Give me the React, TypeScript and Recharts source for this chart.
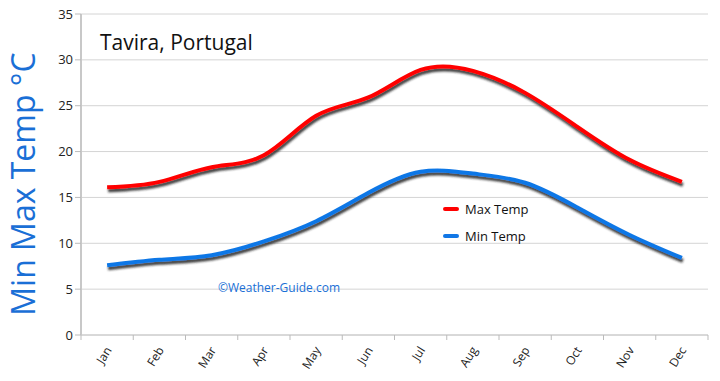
import { LineChart, Line, XAxis, YAxis, CartesianGrid } from 'recharts';

const months = ['Jan', 'Feb', 'Mar', 'Apr', 'May', 'Jun', 'Jul', 'Aug', 'Sep', 'Oct', 'Nov', 'Dec'];
const maxTemp = [16.1, 16.7, 18.3, 19.6, 23.9, 25.9, 28.9, 28.8, 26.4, 22.7, 19.1, 16.7];
const minTemp = [7.6, 8.2, 8.7, 10.2, 12.4, 15.5, 17.8, 17.6, 16.6, 13.9, 10.9, 8.4];
const yTicks = [0, 5, 10, 15, 20, 25, 30, 35];

const data = months.map((m, i) => ({ month: m, max: maxTemp[i], min: minTemp[i] }));

const font = '"Open Sans", "DejaVu Sans", sans-serif';
const STEP = 627 / 12;

type TickProps = { x?: number; y?: number; payload?: { value: string; index: number } };

const MonthTick = ({ x = 0, y = 0, payload }: TickProps): JSX.Element => {
  const last = payload?.index === months.length - 1;
  return (
    <g>
      <line x1={x - STEP / 2} x2={x - STEP / 2} y1={y - 8} y2={y - 3} stroke="#bbb" />
      {last && <line x1={x + STEP / 2} x2={x + STEP / 2} y1={y - 8} y2={y - 3} stroke="#bbb" />}
      <text
        x={x + 5}
        y={y + 7}
        textAnchor="end"
        fontSize={12}
        fill="#222"
        fontFamily={font}
        transform={`rotate(-58 ${x + 5} ${y + 7})`}
      >
        {payload?.value}
      </text>
    </g>
  );
};

export default function App(): JSX.Element {
  return (
    <div style={{ position: 'absolute', left: 0, top: 0, width: 720, height: 381, background: '#fff', fontFamily: font }}>
      <style>{`.shadowed path.recharts-curve { filter: url(#lineShadow); }`}</style>
      <LineChart width={720} height={381} data={data} margin={{ top: 14, right: 12, left: 31, bottom: 0 }}>
        <defs>
          <filter id="lineShadow" x="-5%" y="-20%" width="110%" height="150%">
            <feDropShadow dx="1" dy="3" stdDeviation="1.2" floodColor="#222" floodOpacity="0.85" />
          </filter>
        </defs>
        <CartesianGrid vertical={false} stroke="#d4d4d4" />
        <XAxis
          dataKey="month"
          height={46}
          padding={{ left: STEP / 2, right: STEP / 2 }}
          tick={<MonthTick />}
          tickLine={false}
          axisLine={{ stroke: '#c8c8c8' }}
          interval={0}
        />
        <YAxis
          domain={[0, 35]}
          ticks={yTicks}
          width={50}
          tickSize={6}
          tickLine={{ stroke: '#bbb' }}
          axisLine={{ stroke: '#c8c8c8', strokeWidth: 2 }}
          tick={{ fontSize: 13, fill: '#222', fontFamily: font }}
        />
        <YAxis
          yAxisId="r"
          orientation="right"
          width={0}
          tick={false}
          tickLine={false}
          axisLine={{ stroke: '#d4d4d4' }}
        />
        <Line
          className="shadowed"
          dataKey="max"
          type="natural"
          stroke="#ff0000"
          strokeWidth={4}
          dot={false}
          isAnimationActive={false}
        />
        <Line
          className="shadowed"
          dataKey="min"
          type="natural"
          stroke="#1177e6"
          strokeWidth={4}
          dot={false}
          isAnimationActive={false}
        />
      </LineChart>

      <div style={{ position: 'absolute', left: 100, top: 28, fontSize: 21, color: '#111' }}>Tavira, Portugal</div>

      <div
        style={{
          position: 'absolute',
          left: 22,
          top: 184,
          transform: 'translate(-50%, -50%) rotate(-90deg)',
          fontSize: 32,
          color: '#1a6fd6',
          whiteSpace: 'nowrap',
        }}
      >
        Min Max Temp °C
      </div>

      <div style={{ position: 'absolute', left: 443, top: 200, fontSize: 13, color: '#111' }}>
        <div style={{ display: 'flex', alignItems: 'center', height: 18 }}>
          <span style={{ display: 'inline-block', width: 16, height: 4, background: '#ff0000', borderRadius: 2, marginRight: 6 }} />
          Max Temp
        </div>
        <div style={{ display: 'flex', alignItems: 'center', height: 18, marginTop: 9 }}>
          <span style={{ display: 'inline-block', width: 16, height: 4, background: '#1177e6', borderRadius: 2, marginRight: 6 }} />
          Min Temp
        </div>
      </div>

      <div style={{ position: 'absolute', left: 218, top: 279, fontSize: 12, color: '#1a6fd6' }}>©Weather-Guide.com</div>
    </div>
  );
}
